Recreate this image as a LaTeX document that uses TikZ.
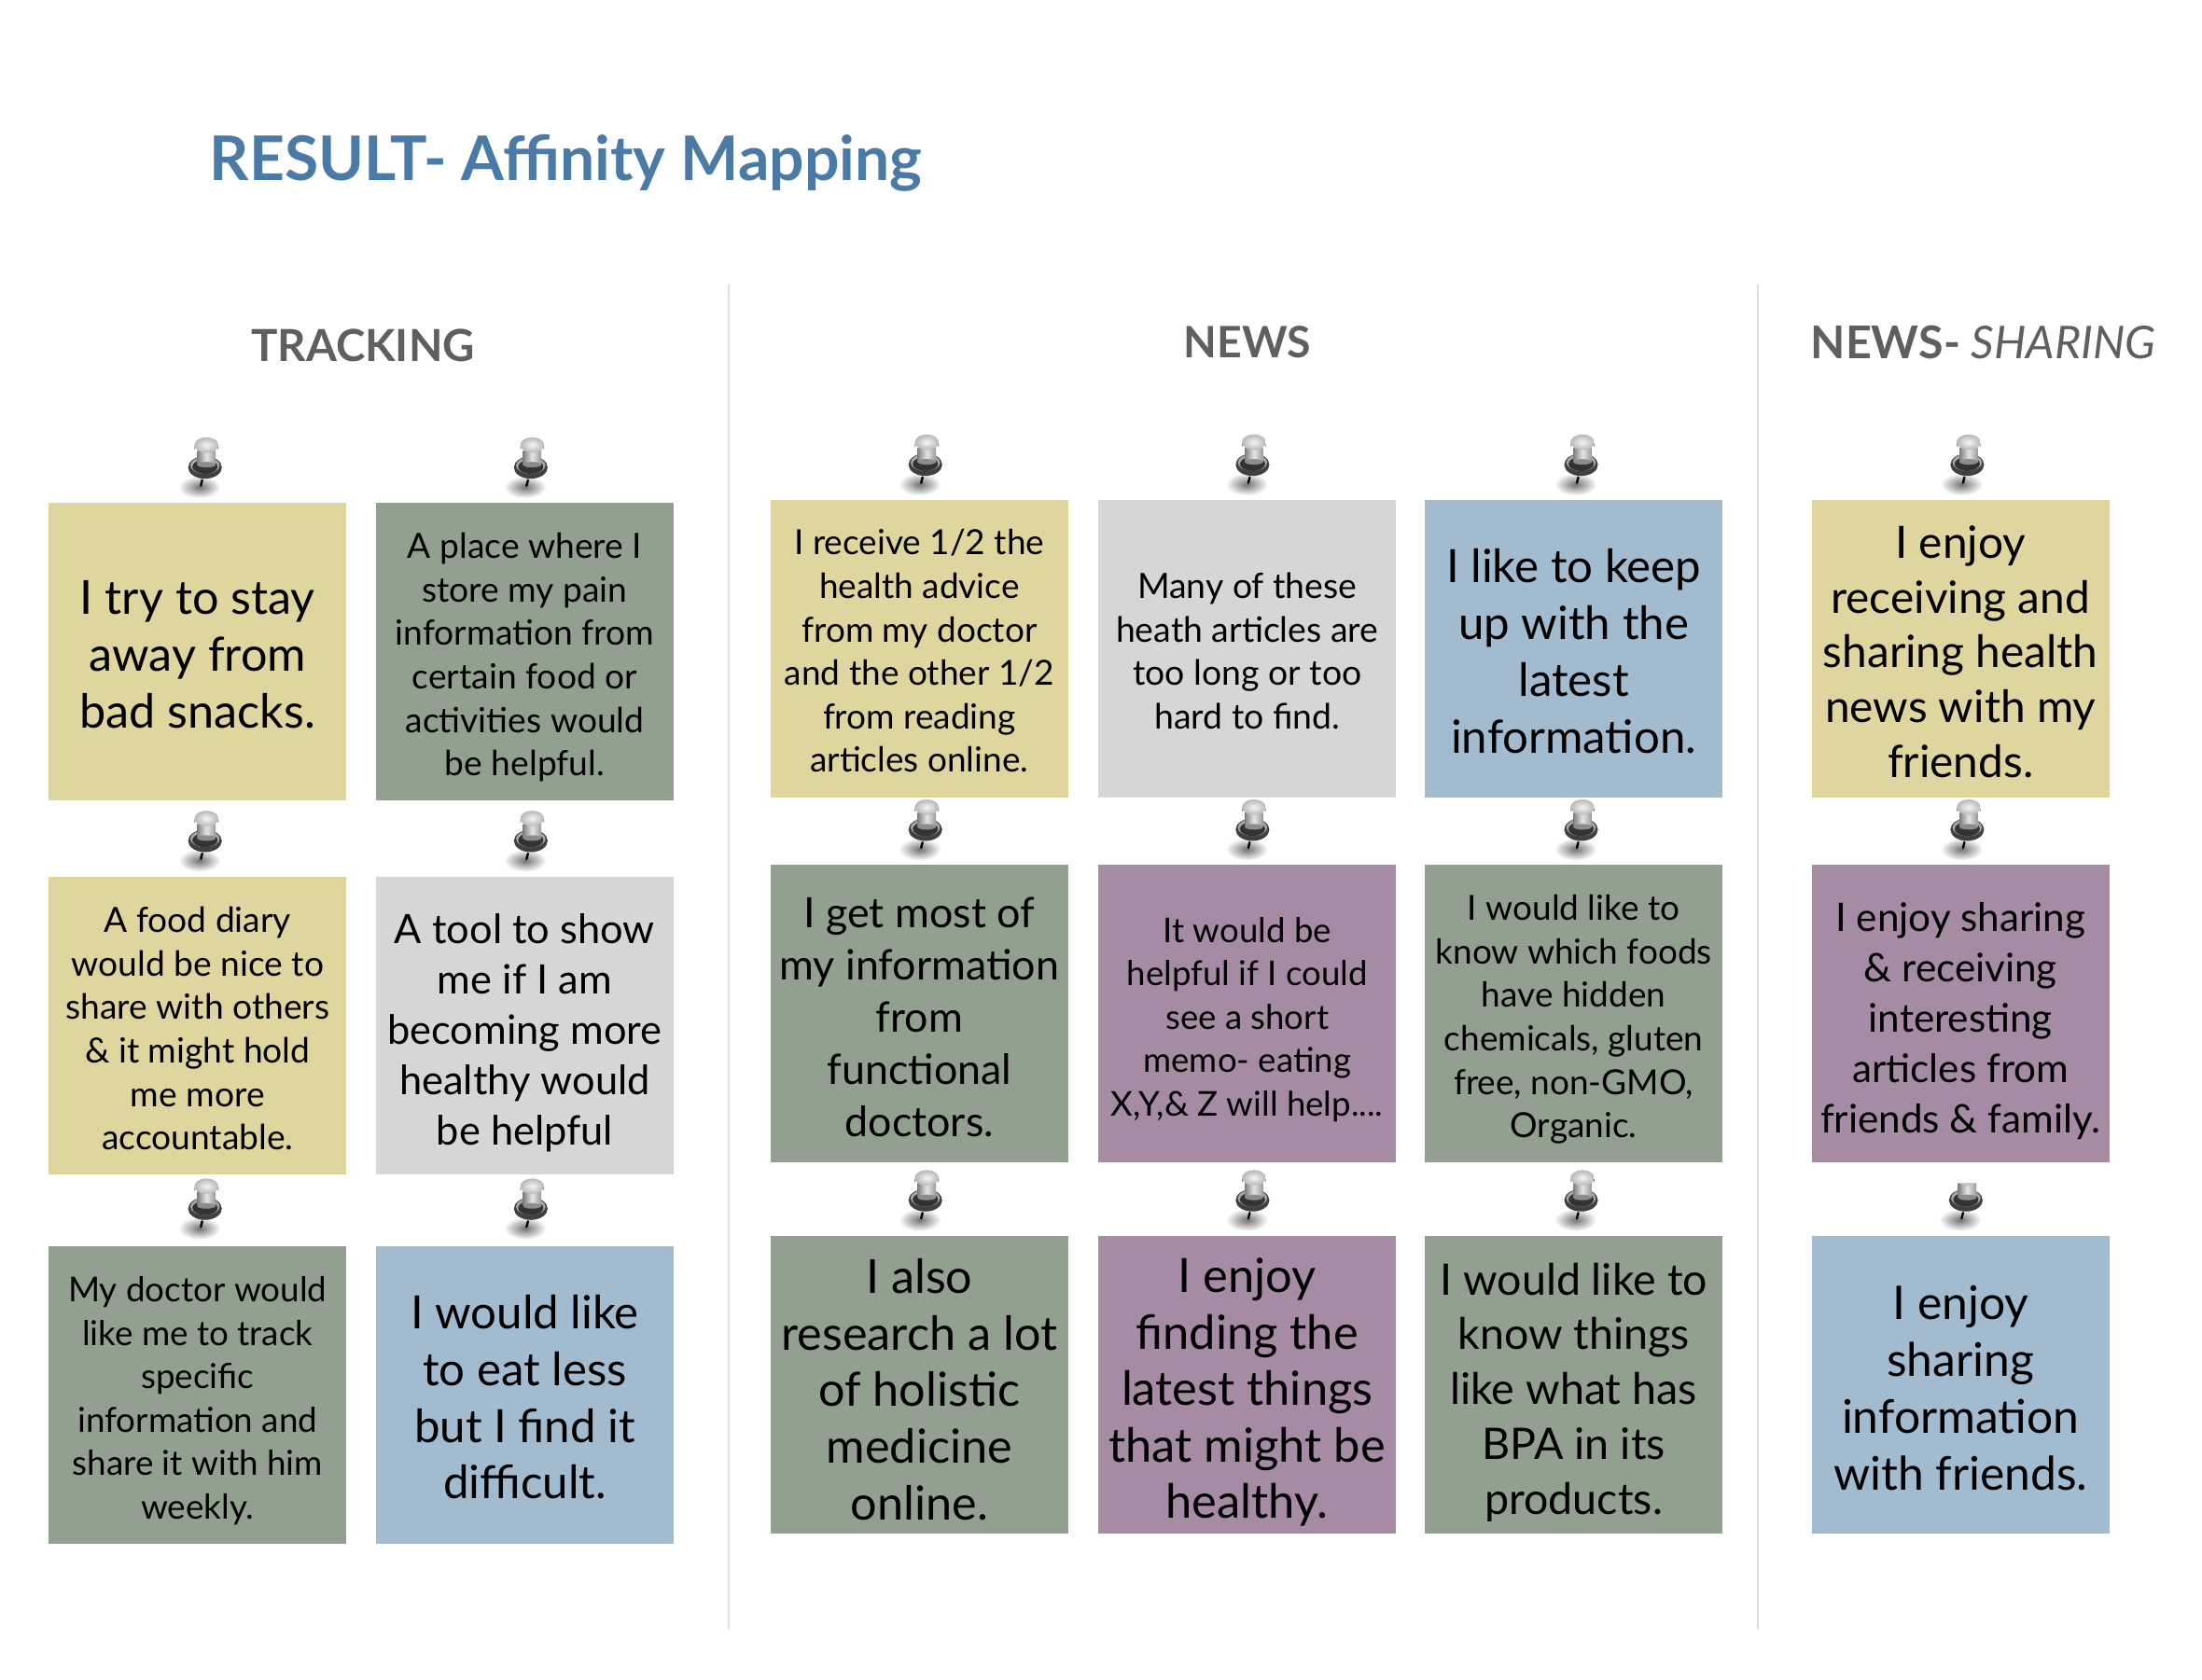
\documentclass[tikz,border=0pt]{standalone}
\usepackage{fontspec}
\setmainfont{Lato}
\usetikzlibrary{shapes.geometric}
\definecolor{cyel}{HTML}{DFD69F}
\definecolor{cgrn}{HTML}{92A18F}
\definecolor{cgry}{HTML}{D6D6D6}
\definecolor{cblu}{HTML}{A3BBCF}
\definecolor{cpur}{HTML}{A68BA4}
\definecolor{ctitle}{HTML}{4A7BA6}
\definecolor{chead}{HTML}{5F5F5F}
\definecolor{cdiv}{HTML}{D8E3EA}
\tikzset{
  x=0.7525pt,y=-0.7525pt,
  card/.style={minimum width=159.5pt,minimum height=159.5pt,inner sep=0pt,anchor=north west},
  cardtext/.style={inner sep=0pt,align=center,text=black},
  headtext/.style={text=chead,inner sep=0pt},
  divider/.style={draw=cdiv,line width=1pt},
  pics/pushpin/.style={code={
    \shade[inner color=black!55,outer color=white] (-5,29) ellipse [x radius=15,y radius=8];
    \draw[black,line width=1.2pt,line cap=round] (-3,24) -- (-4,28);
    \fill[black!75] (-1,15) ellipse [x radius=12,y radius=8];
    \fill[black!35] (-1,13.5) ellipse [x radius=10.5,y radius=6];
    \fill[black!80] (-1,14.5) ellipse [x radius=9,y radius=5];
    \shade[left color=black!50,right color=black!40,middle color=black!10] (-6.5,3) rectangle (6.5,13);
    \fill[black!45] (0,13) ellipse [x radius=6.5,y radius=2];
    \fill[black!55] (-8.5,0) -- (-8.5,2.5) arc [start angle=180,end angle=360,x radius=8.5,y radius=5] -- (8.5,0) -- cycle;
    \shade[inner color=black!4,outer color=black!28] (0,-1) ellipse [x radius=8.5,y radius=5.5];
  }}
}
% name, x, y, colour, size, leading, text shift, text
\newcommand{\cardat}[8]{%
  \node[card,fill=#4] (#1) at (#2,#3) {};
  \node[cardtext,font=\fontsize{#5}{#6}\selectfont,shift={(0,#7)}] (#1t) at (#1.center) {#8};
}
\begin{document}
\begin{tikzpicture}
\useasboundingbox (0,0) rectangle (1568.2,1196.2);
\fill[white] (0,0) rectangle (1568.2,1196.2);
\coordinate (d1a) at (519,203); \coordinate (d1b) at (519,1161);
\coordinate (d2a) at (1252,203); \coordinate (d2b) at (1252,1161);
\draw[divider] (d1a) -- (d1b);
\draw[divider] (d2a) -- (d2b);
\node[anchor=west,inner sep=0pt,text=ctitle,font=\fontsize{33}{40}\selectfont\bfseries] (title) at (149,116) {RESULT- Affinity Mapping};
\node[headtext,font=\fontsize{23.7}{28}\selectfont\bfseries] (h1) at (258.5,246) {TRACKING};
\node[headtext,font=\fontsize{23.2}{28}\selectfont\bfseries] (h2) at (888.5,244) {NEWS};
\node[headtext,font=\fontsize{24.2}{28}\selectfont\bfseries] (h3) at (1412.5,244) {NEWS- \fontseries{m}\itshape SHARING};
% cards
\cardat{a1}{34.5}{358}{cyel}{25.2}{30.4}{2}{I try to stay\\away from\\bad snacks.}
\cardat{a2}{267.5}{358}{cgrn}{18.6}{23.3}{4}{A place where I\\store my pain\\information from\\certain food or\\activities would\\be helpful.}
\cardat{b1}{34.5}{624.5}{cyel}{18.6}{23.3}{2}{A food diary\\would be nice to\\share with others\\\& it might hold\\me more\\accountable.}
\cardat{b2}{267.5}{624.5}{cgry}{21.7}{27.1}{5}{A tool to show\\me if I am\\becoming more\\healthy would\\be helpful}
\cardat{c1}{34.5}{887.5}{cgrn}{18.4}{23.3}{4}{My doctor would\\like me to track\\specific\\information and\\share it with him\\weekly.}
\cardat{c2}{267.5}{887.5}{cblu}{24.6}{30.4}{1.5}{I would like\\to eat less\\but I find it\\difficult.}
\cardat{d1}{548.5}{356}{cyel}{18.5}{23.3}{1.5}{I receive 1/2 the\\health advice\\from my doctor\\and  the other 1/2\\from reading\\articles online.}
\cardat{d2}{782}{356}{cgry}{18.7}{23.3}{1.5}{Many of these\\heath articles are\\too long or too\\hard to find.}
\cardat{d3}{1014.5}{356}{cblu}{24.6}{30.4}{1.5}{I like to keep\\up with the\\latest\\information.}
\cardat{d4}{1290}{356}{cyel}{23.9}{29.4}{2}{I enjoy\\receiving and\\sharing health\\news with my\\friends.}
\cardat{e1}{548.5}{616}{cgrn}{22.4}{28}{2.5}{I get most of\\my information\\from\\functional\\doctors.}
\cardat{e2}{782}{616}{cpur}{18.3}{23.3}{4}{It would be\\helpful if I could\\see a short\\memo- eating\\X,Y,\& Z will help....}
\cardat{e3}{1014.5}{616}{cgrn}{18.5}{23.3}{4}{I would like to\\know which foods\\have hidden\\chemicals, gluten\\free, non-GMO,\\Organic.}
\cardat{e4}{1290}{616}{cpur}{21.1}{27}{5}{I enjoy sharing\\\& receiving\\interesting\\articles from\\friends \& family.}
\cardat{f1}{548.5}{880.5}{cgrn}{25.2}{30.3}{3}{I also\\research a lot\\of holistic\\medicine\\online.}
\cardat{f2}{782}{880.5}{cpur}{25.3}{30.3}{5}{I enjoy\\finding the\\latest things\\that might be\\healthy.}
\cardat{f3}{1014.5}{880.5}{cgrn}{23.3}{29.4}{5}{I would like to\\know things\\like what has\\BPA in its\\products.}
\cardat{f4}{1290}{880.5}{cblu}{24.9}{30.4}{2}{I enjoy\\sharing\\information\\with friends.}
% pins
\foreach \px/\py in {147/318,379/318,147/584,379/584,147/846,379/846,
  660/316,893/316,1127/316,1402/316,
  660/576,893/576,1127/576,1402/576,
  660/840,893/840,1127/840}
  \pic at (\px,\py) {pushpin};
\begin{scope}
  \clip (1370,843) rectangle (1430,880);
  \pic at (1401,840) {pushpin};
\end{scope}
\end{tikzpicture}
\end{document}
